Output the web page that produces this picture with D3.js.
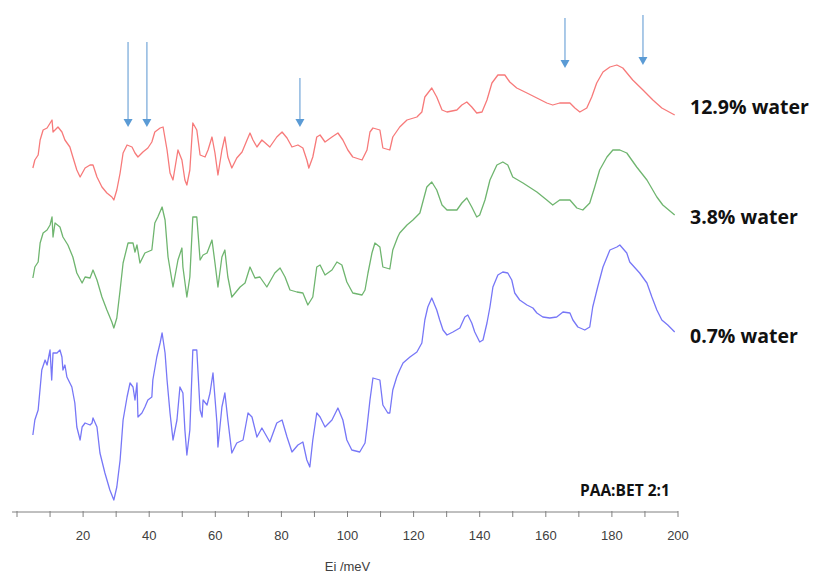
<!DOCTYPE html>
<html><head><meta charset="utf-8">
<script src="https://cdn.jsdelivr.net/npm/d3@7"></script>
<style>body{margin:0;background:#fff}svg{display:block}</style>
</head><body><svg id="c" width="829" height="579"></svg>
<script>
// Energy (meV) / intensity (arb. units, each curve relative to its own baseline)
const blue = [[4.8,77],[5.4,92],[6.4,102],[7.5,142],[8.5,152],[9.1,147],[10.0,162],[10.5,132],[10.9,159],[12.1,159],[13.0,162],[13.6,155],[13.9,142],[14.5,147],[15.1,135],[16.6,125],[17.5,109],[18.1,85],[19.1,72],[19.7,85],[20.6,89],[22.1,87],[22.7,89],[23.0,94],[24.2,85],[25.1,59],[26.6,39],[28.1,22],[29.3,12],[30.2,25],[31.2,52],[32.1,92],[33.3,115],[34.2,129],[35.1,125],[35.7,112],[36.3,129],[36.6,95],[37.8,99],[38.7,105],[39.6,112],[40.8,115],[41.1,132],[42.3,155],[43.3,169],[43.9,179],[44.8,159],[45.4,132],[46.3,99],[47.2,72],[48.4,92],[49.3,125],[50.2,119],[50.8,82],[51.4,57],[52.3,82],[53.2,162],[54.4,162],[55.4,102],[56.0,95],[56.3,112],[57.5,107],[58.4,119],[59.3,139],[60.5,89],[60.8,65],[62.0,105],[62.9,119],[63.8,92],[65.0,59],[66.5,69],[68.4,72],[69.9,99],[71.1,95],[72.6,75],[74.1,84],[76.5,70],[78.6,89],[80.2,92],[81.7,75],[83.2,60],[85.0,67],[86.5,70],[87.7,52],[88.6,45],[89.5,72],[90.7,99],[91.7,95],[93.2,85],[95.3,92],[97.1,104],[98.6,92],[99.8,72],[101.3,62],[103.7,60],[105.3,69],[105.9,85],[106.8,112],[107.7,134],[109.8,132],[110.7,107],[112.2,99],[112.8,99],[113.7,122],[114.9,135],[115.8,142],[116.8,149],[118.9,155],[121.0,160],[122.5,169],[123.4,192],[124.3,205],[125.5,214],[127.0,202],[127.9,192],[128.9,182],[130.1,177],[131.9,180],[134.0,184],[135.5,195],[136.4,197],[137.6,189],[138.5,180],[140.0,170],[141.0,172],[142.2,189],[143.1,205],[144.0,225],[145.5,237],[147.0,240],[148.5,239],[149.7,232],[150.6,219],[152.1,212],[154.3,207],[156.1,204],[157.3,199],[159.1,195],[161.2,194],[163.3,195],[165.2,200],[167.3,199],[168.2,192],[169.7,185],[171.8,182],[173.3,185],[174.2,205],[175.7,225],[177.3,245],[179.4,262],[181.5,265],[182.4,267],[184.5,259],[185.4,250],[188.4,239],[190.6,229],[192.1,215],[193.6,202],[195.1,192],[196.9,187],[199.0,180]];
const green = [[4.8,114],[5.4,125],[6.4,130],[7.0,149],[7.9,159],[9.1,162],[10.0,167],[10.6,175],[10.9,155],[11.5,169],[13.0,165],[13.9,155],[15.4,147],[16.9,135],[18.1,119],[19.7,109],[20.6,115],[22.1,114],[23.0,122],[24.2,112],[25.7,95],[27.2,82],[28.7,70],[29.3,64],[30.2,74],[31.2,102],[32.1,129],[33.6,149],[35.1,149],[35.7,140],[36.3,147],[37.2,129],[38.7,139],[40.8,142],[41.7,169],[42.6,175],[43.9,185],[44.8,172],[45.7,135],[47.2,105],[48.7,132],[49.9,144],[50.2,125],[51.4,95],[52.3,115],[53.2,175],[54.4,175],[55.4,132],[56.3,137],[57.5,139],[59.0,152],[59.9,129],[60.8,105],[62.0,135],[62.9,142],[63.8,115],[65.0,95],[67.5,105],[69.0,109],[70.5,125],[72.0,114],[73.5,115],[75.6,105],[78.0,119],[79.6,124],[81.1,115],[82.6,102],[84.7,100],[86.5,99],[88.0,87],[89.5,95],[90.7,125],[91.7,127],[93.2,117],[95.3,122],[96.8,130],[98.3,127],[99.8,110],[101.6,99],[104.4,97],[105.3,102],[106.2,119],[107.4,139],[108.3,149],[109.8,145],[110.7,125],[112.8,123],[113.7,142],[115.2,155],[115.8,159],[118.0,167],[119.8,172],[121.9,179],[124.0,205],[125.5,210],[127.0,202],[128.6,187],[130.1,182],[133.1,182],[134.6,189],[136.1,194],[137.6,185],[139.1,175],[140.0,177],[141.6,192],[143.1,212],[145.2,227],[147.0,230],[148.5,227],[150.0,215],[153.1,209],[157.3,200],[160.3,192],[162.1,187],[164.2,192],[167.3,192],[169.4,184],[171.2,182],[173.3,189],[174.8,205],[176.3,222],[178.5,235],[180.3,242],[182.4,242],[184.5,239],[187.5,225],[190.6,212],[193.6,195],[195.4,187],[199.0,177]];
const red = [[4.8,104],[5.4,112],[6.4,117],[7.0,132],[7.9,142],[9.1,144],[10.6,152],[10.9,140],[12.4,145],[13.6,140],[14.5,132],[16.0,125],[16.9,115],[18.1,102],[19.1,95],[20.6,104],[22.1,107],[23.0,107],[24.2,95],[25.7,85],[27.2,79],[28.7,75],[29.3,72],[30.2,82],[31.2,99],[32.1,119],[33.3,127],[34.8,125],[35.7,119],[36.6,115],[38.1,120],[39.6,124],[40.8,130],[41.7,140],[43.3,144],[44.2,145],[45.4,122],[46.3,99],[47.2,92],[48.7,122],[49.9,112],[50.8,92],[51.4,87],[52.3,102],[53.2,149],[54.4,142],[55.4,117],[56.9,115],[57.8,122],[59.0,135],[59.9,119],[60.8,97],[62.0,122],[62.9,135],[63.8,115],[65.0,104],[66.5,114],[68.1,120],[69.6,132],[70.5,139],[71.4,132],[72.6,125],[74.1,132],[76.5,125],[78.6,135],[80.2,140],[81.7,134],[83.2,125],[85.0,127],[86.5,124],[87.7,112],[88.3,104],[89.5,115],[90.7,135],[91.7,137],[93.2,130],[95.3,135],[97.1,139],[98.6,132],[100.1,122],[101.6,115],[104.4,112],[105.9,122],[106.8,140],[107.7,144],[109.8,142],[110.7,124],[112.8,122],[113.7,135],[115.8,145],[118.0,152],[121.0,155],[122.5,160],[123.4,175],[125.5,184],[127.0,175],[128.6,162],[130.1,160],[133.1,162],[134.6,167],[136.1,170],[137.6,165],[139.1,159],[140.7,160],[142.2,172],[143.7,189],[145.5,197],[147.6,197],[149.1,190],[151.2,184],[154.3,179],[157.3,174],[160.3,169],[162.1,167],[164.2,169],[167.3,169],[168.8,164],[170.3,160],[172.4,164],[173.9,175],[175.4,189],[177.3,200],[179.4,205],[181.5,207],[183.3,204],[186.3,192],[189.4,182],[192.4,172],[195.1,164],[199.0,157]];

const seriesNames = ["12.9% water", "3.8% water", "0.7% water"];
const seriesData = [red, green, blue];
const seriesOffsets = [240, 120, 0];
const seriesColors = ["#f77a7a", "#6fb56f", "#7777f7"];
const labelValues = [158, 168, 169]; // label baseline intensity (incl. offset) near 200 meV

// Annotation arrows: energy (meV), top and tip in stacked intensity units
const arrowE = [33.6, 39.3, 85.6, 165.8, 189.4];
const arrowTop = [470, 470, 434, 494, 497];
const arrowTip = [385, 385, 385, 444, 447];

const xTicks = d3.range(0, 201, 10);
const xLabels = d3.range(20, 201, 20);

const svg = d3.select("#c");
const x = d3.scaleLinear().domain([0, 200]).range([17, 678]);
const y = d3.scaleLinear().domain([0, 500]).range([512, 12]);

// x axis
const ax = svg.append("g").attr("transform", `translate(0,${y(0)})`);
ax.append("line").attr("x1", x(-1.5)).attr("x2", x(200)).attr("stroke", "#808080").attr("stroke-width", 1);
ax.selectAll("line.t").data(xTicks).join("line").attr("class","t")
  .attr("x1", d => x(d)).attr("x2", d => x(d)).attr("y1", -1).attr("y2", 5)
  .attr("stroke", "#808080").attr("stroke-width", 1);
ax.selectAll("text").data(xLabels).join("text")
  .attr("x", d => x(d)).attr("y", 28).attr("text-anchor", "middle")
  .attr("font-family", "Liberation Sans, Arial, sans-serif").attr("font-size", 13)
  .attr("fill", "#404040").text(d => d);
svg.append("text").attr("x", x(100)).attr("y", 571).attr("text-anchor", "middle")
  .attr("font-family", "Liberation Sans, Arial, sans-serif").attr("font-size", 13)
  .attr("fill", "#404040").text("Ei /meV");

// curves
const line = d3.line().x(d => x(d[0])).curve(d3.curveLinear);
seriesData.forEach((s, i) => {
  svg.append("path").datum(s)
    .attr("d", line.y(d => y(d[1] + seriesOffsets[i])))
    .attr("fill", "none").attr("stroke", seriesColors[i]).attr("stroke-width", 1.3)
    .attr("stroke-linejoin", "round");
});

// labels
svg.selectAll("text.lab").data(seriesNames).join("text").attr("class","lab")
  .attr("x", 690).attr("y", (d, i) => y(labelValues[i] + seriesOffsets[i]))
  .attr("font-family", "Open Sans, sans-serif").attr("font-weight", "bold").attr("font-size", 19.5)
  .attr("fill", "#111").text(d => d);
svg.append("text").attr("x", 580).attr("y", 496)
  .attr("font-family", "Open Sans, sans-serif").attr("font-weight", "bold").attr("font-size", 15.5)
  .attr("fill", "#111").text("PAA:BET 2:1");

// arrows
arrowE.forEach((e, i) => {
  svg.append("line").attr("x1", x(e)).attr("x2", x(e)).attr("y1", y(arrowTop[i])).attr("y2", y(arrowTip[i]) - 6)
    .attr("stroke", "#8fb8e0").attr("stroke-width", 1.5);
  const tx = x(e), ty = y(arrowTip[i]);
  svg.append("path").attr("d", `M${tx-4.5},${ty-8}L${tx+4.5},${ty-8}L${tx},${ty}Z`).attr("fill", "#5b9bd5");
});
</script></body></html>
